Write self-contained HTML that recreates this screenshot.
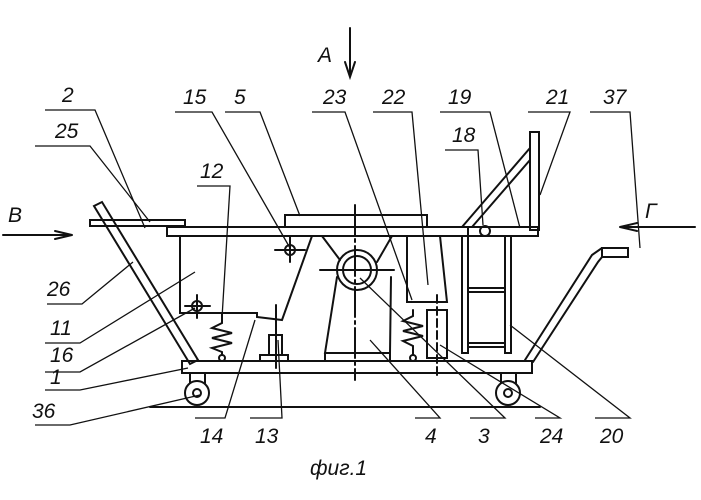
<!DOCTYPE html>
<html><head><meta charset="utf-8"><style>
html,body{margin:0;padding:0;background:#fff;}
svg{display:block}
text{font-family:"Liberation Sans","DejaVu Sans",sans-serif;font-style:italic;font-size:21px;fill:#111}
</style></head><body>
<svg width="701" height="500" viewBox="0 0 701 500" xmlns="http://www.w3.org/2000/svg">
<g stroke="#111" stroke-width="2" fill="none" stroke-linecap="round">
<!-- arrows -->
<line x1="350" y1="28" x2="350" y2="76"/><polyline points="345,62 350,77 355,62"/>
<line x1="3" y1="235" x2="72" y2="235"/><polyline points="55,231 72,235 55,239"/>
<line x1="620" y1="227" x2="695" y2="227"/><polyline points="637,223 620,227 637,231"/>
<!-- table top -->
<rect x="167" y="227" width="371" height="9"/>
<line x1="468" y1="227" x2="468" y2="236"/>
<rect x="90" y="220" width="95" height="6"/>
<rect x="285" y="215" width="142" height="12"/>
<!-- right upright -->
<rect x="530" y="132" width="9" height="98"/>
<line x1="462" y1="227" x2="530" y2="148"/><line x1="472" y1="227" x2="530" y2="160"/>
<circle cx="485" cy="231" r="5"/>
<!-- left handle -->
<polygon points="94,206 102,202 198,360 190,364"/>
<!-- right handle -->
<polyline points="525,360 592,255 602,248"/><polyline points="533,362 598,262 602,257"/>
<rect x="602" y="248" width="26" height="9"/>
<!-- box 11 -->
<polyline points="180,236 180,313 257,313 257,317 282,320 312,236"/>
<line x1="222" y1="313" x2="222" y2="318"/>
<circle cx="290" cy="250" r="5"/><line x1="275" y1="250" x2="305" y2="250"/><line x1="290" y1="237" x2="290" y2="262"/>
<circle cx="197" cy="306" r="5"/><line x1="185" y1="306" x2="210" y2="306"/><line x1="197" y1="295" x2="197" y2="318"/>
<!-- base -->
<rect x="182" y="361" width="350" height="12"/>
<line x1="150" y1="407" x2="540" y2="407"/>
<circle cx="197" cy="393" r="12"/><circle cx="197" cy="393" r="4"/>
<line x1="190" y1="373" x2="190" y2="383"/><line x1="205" y1="373" x2="205" y2="383"/>
<circle cx="508" cy="393" r="12"/><circle cx="508" cy="393" r="4"/>
<line x1="501" y1="373" x2="501" y2="383"/><line x1="516" y1="373" x2="516" y2="383"/>
<!-- pedestal -->
<polyline points="337,277 325,353 390,353 391,277"/>
<line x1="325" y1="361" x2="325" y2="353"/><line x1="390" y1="361" x2="390" y2="353"/>
<line x1="322" y1="236" x2="340" y2="260"/><line x1="392" y1="236" x2="377" y2="262"/>
<circle cx="357" cy="270" r="20"/><circle cx="357" cy="270" r="14"/>
<line x1="320" y1="270" x2="394" y2="270"/><line x1="355" y1="205" x2="355" y2="380" stroke-dasharray="30,4,3,4"/>
<!-- springs -->
<polyline points="222,318 222,323 212,328 232,333 212,338 232,343 212,348 222,352 222,355"/>
<circle cx="222" cy="358" r="3"/>
<polyline points="413,310 413,316 403,321 423,326 403,331 423,336 403,341 413,346 413,355"/>
<circle cx="413" cy="358" r="3"/>
<!-- 13 -->
<rect x="269" y="335" width="13" height="20"/><rect x="260" y="355" width="28" height="6"/>
<line x1="276" y1="305" x2="276" y2="368"/>
<!-- 22/24 -->
<polyline points="407,236 407,302 447,302 440,236"/>
<rect x="427" y="310" width="20" height="48"/>
<line x1="437" y1="295" x2="437" y2="375" stroke-dasharray="8,4"/>
<!-- ladder -->
<rect x="462" y="236" width="6" height="117"/><rect x="505" y="236" width="6" height="117"/>
<line x1="468" y1="288" x2="505" y2="288"/><line x1="468" y1="292" x2="505" y2="292"/>
<line x1="468" y1="343" x2="505" y2="343"/><line x1="468" y1="347" x2="505" y2="347"/>
</g>
<!-- leaders -->
<g stroke="#111" stroke-width="1.3" fill="none">
<polyline points="45,110 95,110 145,228"/>
<polyline points="175,112 212,112 290,248"/>
<polyline points="225,112 260,112 300,216"/>
<polyline points="312,112 345,112 412,300"/>
<polyline points="373,112 412,112 428,285"/>
<polyline points="440,112 490,112 520,228"/>
<polyline points="528,112 570,112 540,195"/>
<polyline points="590,112 630,112 640,248"/>
<polyline points="35,146 90,146 150,222"/>
<polyline points="197,186 230,186 222,318"/>
<polyline points="445,150 478,150 483,225"/>
<polyline points="47,304 82,304 133,262"/>
<polyline points="45,343 80,343 195,272"/>
<polyline points="45,372 80,372 195,308"/>
<polyline points="45,390 80,390 188,368"/>
<polyline points="35,425 70,425 200,395"/>
<polyline points="195,418 225,418 255,320"/>
<polyline points="250,418 282,418 278,340"/>
<polyline points="415,418 440,418 370,340"/>
<polyline points="470,418 505,418 360,278"/>
<polyline points="535,418 560,418 440,345"/>
<polyline points="595,418 630,418 510,325"/>
</g>
<text x="318" y="62" font-size="30">A</text>
<text x="8" y="222" font-size="28">B</text>
<text x="645" y="218" font-size="30">Г</text>
<text x="62" y="102">2</text><text x="183" y="104">15</text><text x="234" y="104">5</text>
<text x="323" y="104">23</text><text x="382" y="104">22</text><text x="448" y="104">19</text>
<text x="546" y="104">21</text><text x="603" y="104">37</text><text x="55" y="138">25</text>
<text x="200" y="178">12</text><text x="452" y="142">18</text>
<text x="47" y="296">26</text><text x="50" y="335">11</text><text x="50" y="362">16</text>
<text x="50" y="384">1</text><text x="32" y="418">36</text>
<text x="200" y="443">14</text><text x="255" y="443">13</text><text x="425" y="443">4</text>
<text x="478" y="443">3</text><text x="540" y="443">24</text><text x="600" y="443">20</text>
<text x="310" y="475" font-size="24">фиг.1</text>
</svg>
</body></html>
